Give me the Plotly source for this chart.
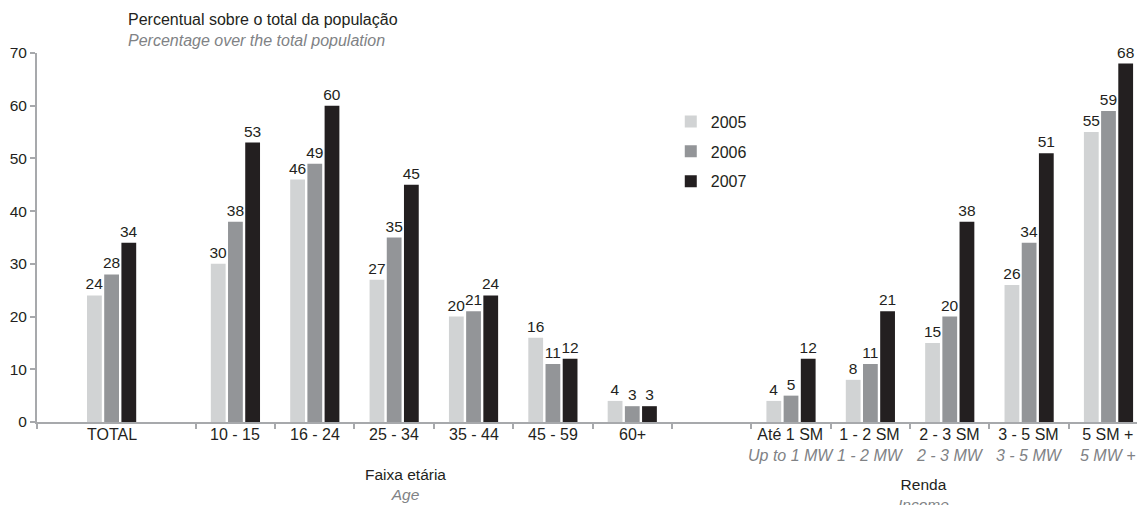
import plotly.graph_objects as go

# categorias e valores (%)
categorias = ["TOTAL", "10 - 15", "16 - 24", "25 - 34", "35 - 44", "45 - 59", "60+",
              "Até 1 SM", "1 - 2 SM", "2 - 3 SM", "3 - 5 SM", "5 SM +"]
categorias_en = ["", "", "", "", "", "", "",
                 "Up to 1 MW", "1 - 2 MW", "2 - 3 MW", "3 - 5 MW", "5 MW +"]
anos = ["2005", "2006", "2007"]
v2005 = [24, 30, 46, 27, 20, 16, 4, 4, 8, 15, 26, 55]
v2006 = [28, 38, 49, 35, 21, 11, 3, 5, 11, 20, 34, 59]
v2007 = [34, 53, 60, 45, 24, 12, 3, 12, 21, 38, 51, 68]

cores = ["#d1d3d4", "#939598", "#231f20"]
texto = "#231f20"
cinza = "#808285"
eixo = "#a7a9ac"
fonte = "Liberation Sans, Arial, sans-serif"

# posicoes dos grupos: TOTAL ocupa duas faixas, depois idades, uma faixa vazia e renda
pos = [0.44] + [2 + i for i in range(6)] + [9 + i for i in range(5)]
limites = [-0.5] + [1.5 + i for i in range(12)] + [13.5]

fig = go.Figure()
for nome, vals, cor in zip(anos, [v2005, v2006, v2007], cores):
    fig.add_trace(go.Bar(
        x=pos, y=vals, name=nome, legendgroup=nome,
        marker=dict(color=cor, line=dict(width=0)),
        text=vals, textposition="outside", constraintext="none",
        textfont=dict(size=15.5, color=texto, family=fonte),
        cliponaxis=False,
    ))

# a pagina tem 8px de margem no body; o grafico ocupa o resto da janela
fig.update_layout(
    width=1137, height=497,
    margin=dict(l=29, r=0, t=45, b=83, autoexpand=False),
    paper_bgcolor="white", plot_bgcolor="white",
    font=dict(family=fonte, size=15.5, color=texto),
    barmode="group", bargap=0.35, bargroupgap=0.14,
    legend=dict(x=0.572, y=0.86, xanchor="left", yanchor="top",
                font=dict(size=16, color=texto), tracegroupgap=6,
                bgcolor="rgba(0,0,0,0)"),
    xaxis=dict(range=[-0.5, 13.46], tickvals=limites, showticklabels=False,
               ticks="outside", ticklen=5, tickwidth=2, tickcolor=eixo,
               showline=True, linecolor=eixo, linewidth=2,
               showgrid=False, zeroline=False),
    yaxis=dict(range=[0, 70], dtick=10, showgrid=False, zeroline=False,
               showline=True, linecolor=eixo, linewidth=2,
               ticks="outside", ticklen=5, tickwidth=2, tickcolor=eixo,
               tickfont=dict(size=15.5, color=texto)),
)

# rotulos das categorias
for p, pt, en in zip(pos, categorias, categorias_en):
    t = pt
    if en:
        t += "<br><span style='color:%s'><i>%s</i></span>" % (cinza, en)
    fig.add_annotation(x=p, y=-0.006, xref="x", yref="paper",
                       xanchor="center", yanchor="top", showarrow=False,
                       text=t, font=dict(size=16, color=texto))

fig.add_annotation(x=0.0805, y=1.092, xref="paper", yref="paper",
                   xanchor="left", yanchor="middle", showarrow=False,
                   text="Percentual sobre o total da população",
                   font=dict(size=16, color=texto))
fig.add_annotation(x=0.0805, y=1.035, xref="paper", yref="paper",
                   xanchor="left", yanchor="middle", showarrow=False,
                   text="<i>Percentage over the total population</i>",
                   font=dict(size=16, color=cinza))
fig.add_annotation(x=4.14, y=-0.17, xref="x", yref="paper",
                   xanchor="center", yanchor="middle", showarrow=False,
                   text="Faixa etária<br><span style='color:%s'><i>Age</i></span>" % cinza,
                   font=dict(size=15.5, color=texto))
fig.add_annotation(x=10.67, y=-0.197, xref="x", yref="paper",
                   xanchor="center", yanchor="middle", showarrow=False,
                   text="Renda<br><span style='color:%s'><i>Income</i></span>" % cinza,
                   font=dict(size=15.5, color=texto))

fig.write_html("out.html")
